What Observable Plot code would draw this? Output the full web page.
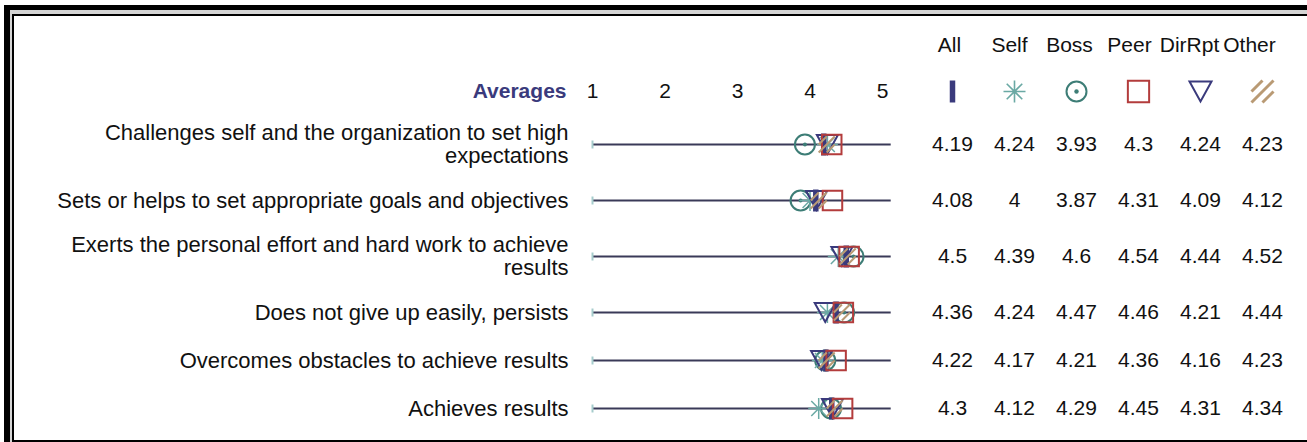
<!DOCTYPE html>
<html>
<head>
<meta charset="utf-8">
<script src="https://cdn.jsdelivr.net/npm/d3@7"></script>
<script src="https://cdn.jsdelivr.net/npm/@observablehq/plot@0.6"></script>
<style>
  html, body { margin: 0; padding: 0; background: #fff; }
  #wrap { position: relative; width: 1307px; height: 442px; overflow: hidden; background: #fff; font-family: "Liberation Sans", Arial, sans-serif; }
  #outer { position: absolute; left: 4px; top: 5px; width: 1400px; height: 500px; background: #d4d4d4; border-left: 6px solid #000; border-top: 5px solid #000; }
  #inner { position: absolute; left: 12px; top: 14px; width: 1400px; height: 424px; background: #fff; border-left: 2px solid #000; border-top: 2px solid #000; border-bottom: 2px solid #000; }
  .layer { position: absolute; left: 0; top: 0; }
  .layer svg { background: transparent !important; overflow: visible; }
</style>
</head>
<body>
<div id="wrap">
  <div id="outer"></div>
  <div id="inner"></div>
  <div id="main" class="layer"></div>
  <div id="table" class="layer"></div>
  <div id="head" class="layer"></div>
</div>
<script>
// ---- data ----
const items = [
  "Challenges self and the organization to set high\nexpectations",
  "Sets or helps to set appropriate goals and objectives",
  "Exerts the personal effort and hard work to achieve\nresults",
  "Does not give up easily, persists",
  "Overcomes obstacles to achieve results",
  "Achieves results"
];
const groups = ["All", "Self", "Boss", "Peer", "DirRpt", "Other"];
const allScores    = [4.19, 4.08, 4.5, 4.36, 4.22, 4.3];
const selfScores   = [4.24, 4, 4.39, 4.24, 4.17, 4.12];
const bossScores   = [3.93, 3.87, 4.6, 4.47, 4.21, 4.29];
const peerScores   = [4.3, 4.31, 4.54, 4.46, 4.36, 4.45];
const dirRptScores = [4.24, 4.09, 4.44, 4.21, 4.16, 4.31];
const otherScores  = [4.23, 4.12, 4.52, 4.44, 4.23, 4.34];
const scaleTicks = [1, 2, 3, 4, 5];
const scaleEnd = 5.12;
const title = "Averages";

// ---- style ----
const FONT = "Liberation Sans, Arial, sans-serif";
const FS = 21;
const FS_LABEL = 22;
const NAVY = "#3a3a7c";
const TEAL = "#6aa9a4";
const BOSS = "#3d7d76";
const RED = "#b33c3c";
const TAN = "#b99a74";
const LINE = "#3a3a58";

// custom symbols (size = r*r*PI)
const rad = (s) => Math.sqrt(s / Math.PI);
const barSym = { draw(c, s) { const r = rad(s); const w = r * 0.5; c.rect(-w / 2, -r, w, 2 * r); } };
const starSym = { draw(c, s) { const r = rad(s); const d = r * Math.SQRT1_2;
  c.moveTo(-r, 0); c.lineTo(r, 0); c.moveTo(0, -r); c.lineTo(0, r);
  c.moveTo(-d, -d); c.lineTo(d, d); c.moveTo(-d, d); c.lineTo(d, -d); } };
const triDown = { draw(c, s) { const r = rad(s); const h = r * 0.9;
  c.moveTo(-r, -h); c.lineTo(r, -h); c.lineTo(0, h); c.closePath(); } };
const hatchSym = { draw(c, s) { const r = rad(s);
  c.moveTo(-r, 0); c.lineTo(0, -r); c.moveTo(-r, r); c.lineTo(r, -r); c.moveTo(0, r); c.lineTo(r, 0); } };

// row vertical layout from label line counts
const lineCounts = items.map(s => s.split("\n").length);
const yPos = [];
{ let acc = 0; for (const n of lineCounts) { const h = n + 2; yPos.push(acc + h / 2); acc += h; } }

const rows = items.map((label, i) => ({
  label, y: yPos[i],
  All: allScores[i], Self: selfScores[i], Boss: bossScores[i],
  Peer: peerScores[i], DirRpt: dirRptScores[i], Other: otherScores[i]
}));
const series = [allScores, selfScores, bossScores, peerScores, dirRptScores, otherScores];
const cells = rows.flatMap((r, i) => groups.map((g, j) => ({ group: g, y: r.y, value: series[j][i] })));

const yScale = { type: "linear", domain: [yPos[0], yPos[yPos.length - 1]], range: [144, 408] };
const common = { width: 1307, height: 442, marginLeft: 0, marginRight: 0, marginBottom: 0,
  style: { background: "transparent", fontFamily: FONT, fontSize: FS + "px", color: "#111" } };

// ---- main dot plot ----
const main = Plot.plot({
  ...common,
  marginTop: 99,
  x: { type: "linear", domain: [1, 5], range: [592, 882] },
  y: { ...yScale, axis: null },
  marks: [
    Plot.axisX({ anchor: "top", ticks: scaleTicks, tickFormat: d3.format("d"), tickSize: 0, tickPadding: 2,
      fontSize: FS, label: null, fill: "#111" }),
    Plot.text([title], { x: [scaleTicks[0]], frameAnchor: "top", lineAnchor: "middle", dy: -8, dx: -26, textAnchor: "end",
      fontSize: FS, fontWeight: "bold", fill: NAVY, text: d => d }),
    Plot.text(rows, { x: () => scaleTicks[0], y: "y", text: "label", dx: -24, textAnchor: "end",
      fontSize: FS_LABEL, lineHeight: 1.05, fill: "#111" }),
    Plot.ruleY(rows, { y: "y", x1: () => scaleTicks[0], x2: () => scaleEnd, stroke: LINE, strokeWidth: 2 }),
    Plot.dot(rows, { x: () => scaleTicks[0], y: "y", symbol: barSym, r: 4, fill: "#a6cccc", stroke: "none" }),
    Plot.dot(rows, { x: "Boss", y: "y", r: 10, stroke: BOSS, strokeWidth: 2, fill: "none" }),
    Plot.dot(rows, { x: "Boss", y: "y", r: 2, fill: BOSS, stroke: "none" }),
    Plot.dot(rows, { x: "Self", y: "y", symbol: starSym, r: 10.5, stroke: TEAL, strokeWidth: 1.5, fill: "none" }),
    Plot.dot(rows, { x: "DirRpt", y: "y", symbol: triDown, r: 10.5, stroke: NAVY, strokeWidth: 2, fill: "none" }),
    Plot.dot(rows, { x: "All", y: "y", symbol: barSym, r: 11, fill: NAVY, stroke: "none" }),
    Plot.dot(rows, { x: "Peer", y: "y", symbol: "square", r: 11, stroke: RED, strokeWidth: 2, fill: "none" }),
    Plot.dot(rows, { x: "Other", y: "y", symbol: hatchSym, r: 8, stroke: TAN, strokeWidth: 2, fill: "none" })
  ]
});
document.getElementById("main").append(main);

// ---- numbers and legend symbols ----
const table = Plot.plot({
  ...common,
  marginTop: 0,
  x: { type: "point", domain: groups, range: [950, 1263], padding: 0, axis: null },
  y: { ...yScale, axis: null },
  marks: [
    Plot.text(cells, { x: "group", y: "y", text: d => String(d.value), fontSize: FS, fill: "#111" }),
    Plot.dot(["All"], { x: d => d, frameAnchor: "top", dy: 91, symbol: barSym, r: 11, fill: NAVY, stroke: "none" }),
    Plot.dot(["Self"], { x: d => d, frameAnchor: "top", dy: 91, symbol: starSym, r: 11, stroke: TEAL, strokeWidth: 1.6, fill: "none" }),
    Plot.dot(["Boss"], { x: d => d, frameAnchor: "top", dy: 91, r: 10, stroke: BOSS, strokeWidth: 2, fill: "none" }),
    Plot.dot(["Boss"], { x: d => d, frameAnchor: "top", dy: 91, r: 2.2, fill: BOSS, stroke: "none" }),
    Plot.dot(["Peer"], { x: d => d, frameAnchor: "top", dy: 91, symbol: "square", r: 12, stroke: RED, strokeWidth: 2, fill: "none" }),
    Plot.dot(["DirRpt"], { x: d => d, frameAnchor: "top", dy: 91, symbol: triDown, r: 11, stroke: NAVY, strokeWidth: 2, fill: "none" }),
    Plot.dot(["Other"], { x: d => d, frameAnchor: "top", dy: 91, symbol: hatchSym, r: 11, stroke: TAN, strokeWidth: 3, fill: "none" })
  ]
});
document.getElementById("table").append(table);

// ---- column headers ----
const head = Plot.plot({
  ...common,
  marginTop: 0,
  x: { type: "point", domain: groups, range: [948, 1249], padding: 0, axis: null },
  marks: [
    Plot.text(groups, { x: d => d, frameAnchor: "top", lineAnchor: "middle", dy: 45, text: d => d, fontSize: FS, fill: "#111" })
  ]
});
document.getElementById("head").append(head);
</script>
</body>
</html>
